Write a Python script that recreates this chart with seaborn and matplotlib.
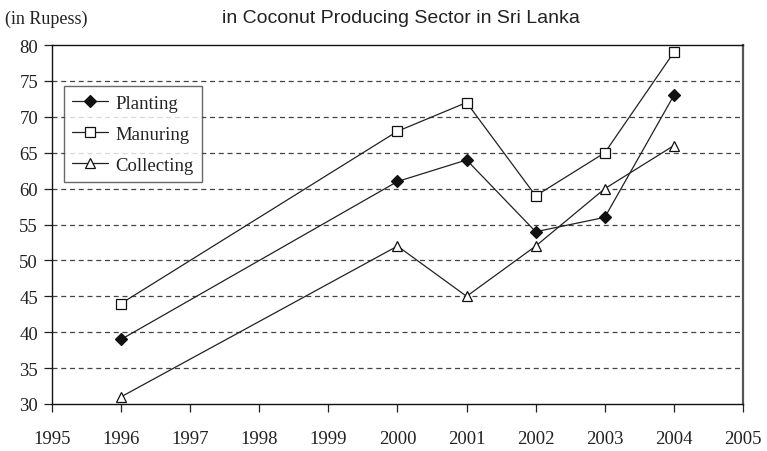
import matplotlib
matplotlib.use("Agg")
import matplotlib.pyplot as plt
import seaborn as sns
import pandas as pd

years = [1996, 2000, 2001, 2002, 2003, 2004]
planting = [39, 61, 64, 54, 56, 73]
manuring = [44, 68, 72, 59, 65, 79]
collecting = [31, 52, 45, 52, 60, 66]
x_ticks = list(range(1995, 2006))
y_ticks = [30, 35, 40, 45, 50, 55, 60, 65, 70, 75, 80]

sns.set_theme(style="white")
plt.rcParams['font.family'] = ['Liberation Serif', 'DejaVu Serif']

fig = plt.figure(figsize=(7.67, 4.52), dpi=100)
ax = fig.add_axes([0.0678, 0.104, 0.9009, 0.794])

df = pd.DataFrame({"Year": years, "Planting": planting,
                   "Manuring": manuring, "Collecting": collecting})

for col, mk, fc, ms in [("Planting", "D", "#111111", 6.5),
                        ("Manuring", "s", "white", 7),
                        ("Collecting", "^", "white", 7.5)]:
    sns.lineplot(data=df, x="Year", y=col, ax=ax, color="#222222",
                 linewidth=0.9, marker=mk, markersize=ms,
                 markerfacecolor=fc, markeredgecolor="#111111",
                 markeredgewidth=0.9, label=col)

for v in y_ticks[1:-1]:
    ax.axhline(v, color="#444444", linestyle=(0, (4, 3)), linewidth=0.9, zorder=0)

ax.set_xlim(1995, 2005)
ax.set_ylim(30, 80)
ax.set_xticks(x_ticks)
ax.set_yticks(y_ticks)
ax.set_xlabel("")
ax.set_ylabel("")
ax.tick_params(axis="both", direction="out", length=6, width=0.9,
               color="#222222", labelsize=13.5, labelcolor="#222222",
               bottom=True, left=True)
ax.tick_params(axis="x", pad=13)
ax.tick_params(axis="y", pad=4)
for s in ["left", "bottom", "top"]:
    ax.spines[s].set_color("#111111")
    ax.spines[s].set_linewidth(1.0)
ax.spines["right"].set_color("#555555")
ax.spines["right"].set_linewidth(1.6)

leg = ax.legend(loc="upper left", bbox_to_anchor=(0.017, 0.886),
                fontsize=13.5, frameon=True, fancybox=False,
                handlelength=1.9, borderpad=0.45, labelspacing=0.75,
                handletextpad=0.4, borderaxespad=0)
leg.get_frame().set_edgecolor("#444444")
leg.get_frame().set_linewidth(1.0)
for t in leg.get_texts():
    t.set_color("#222222")

fig.text(0.007, 0.958, "(in Rupess)", fontsize=13, color="#222222",
         ha="left", va="center")
fig.text(0.523, 0.958, "in Coconut Producing Sector in Sri Lanka",
         fontsize=14, color="#222222", ha="center", va="center",
         family=["Liberation Sans", "DejaVu Sans"])

fig.savefig("out.png", dpi=100)
